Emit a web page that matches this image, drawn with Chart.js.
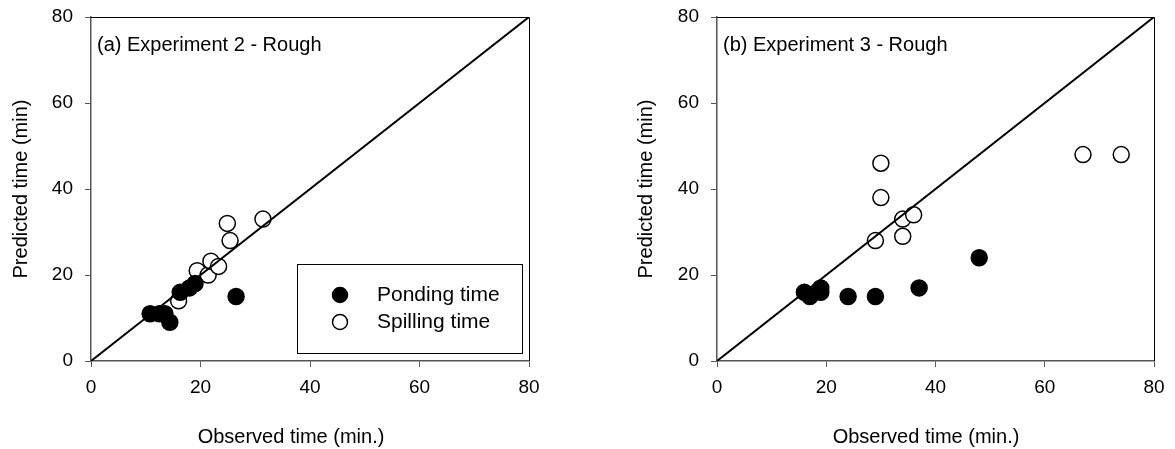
<!DOCTYPE html>
<html>
<head>
<meta charset="utf-8">
<script src="https://cdn.jsdelivr.net/npm/chart.js@4.4.1/dist/chart.umd.min.js"></script>
<style>
  body { margin: 0; background: #fff; }
  .wrap { position: absolute; top: 0; height: 449px; }
</style>
</head>
<body>
<div class="wrap" style="left:0;width:587px"><canvas id="exp2"></canvas></div>
<div class="wrap" style="left:587px;width:588px"><canvas id="exp3"></canvas></div>
<script>
// experiment 2 - rough
var e2PondX = [10.8, 12.5, 13.5, 14.4, 16.3, 18, 19, 26.5]
var e2PondY = [11, 11, 11, 9, 16, 17, 18, 15]
var e2SpillX = [16, 19.4, 21.4, 21.9, 23.3, 24.9, 25.4, 31.4]
var e2SpillY = [14, 21, 20, 23.2, 22, 32, 28, 33]

// experiment 3 - rough
var e3PondX = [16, 17, 19, 19, 24, 29, 37, 48]
var e3PondY = [16, 15, 17, 16, 15, 15, 17, 24]
var e3SpillX = [30, 30, 29, 34, 34, 36, 67, 74]
var e3SpillY = [46, 38, 28, 29, 33, 34, 48, 48]

var axisTicks = [0, 20, 40, 60, 80]
var lineXY = [0, 80]
var legendNames = ['Ponding time', 'Spilling time']
var xTitle = 'Observed time (min.)'
var yTitle = 'Predicted time (min)'

const FONT = 'Liberation Sans, Arial, sans-serif'

function pts(xs, ys){
  return xs.map((x, i) => ({x: x, y: ys[i]}))
}

// frame, axis titles, panel label, legend
const extras = {
  id: 'extras',
  afterDraw(chart, args, opts){
    const c = chart.ctx, a = chart.chartArea
    c.save()
    c.strokeStyle = '#000'
    c.lineWidth = 1
    c.beginPath()
    c.moveTo(a.left, a.top + 0.5); c.lineTo(a.right + 0.5, a.top + 0.5)
    c.lineTo(a.right + 0.5, a.bottom)
    c.stroke()
    c.fillStyle = '#000'
    c.font = '20px ' + FONT
    c.textBaseline = 'middle'
    c.textAlign = 'left'
    c.fillText(opts.label, a.left + 6, 45)

    c.textAlign = 'center'
    c.fillText(xTitle, opts.xTitleX, 437)
    c.save()
    c.translate(opts.yTitleX, 189)
    c.rotate(-Math.PI / 2)
    c.fillText(yTitle, 0, 0)
    c.restore()

    if(opts.legend){
      const lx = a.left + 206, ly = a.bottom - 97, w = 225, h = 89
      c.textAlign = 'left'
      c.font = '21px ' + FONT
      c.strokeRect(lx + 0.5, ly + 0.5, w, h)
      legendNames.forEach((n, i) => {
        const yy = ly + 31 + i * 27
        c.beginPath()
        c.arc(lx + 43, yy, 7.5, 0, Math.PI * 2)
        c.fillStyle = i === 0 ? '#000' : '#fff'
        c.fill()
        c.lineWidth = 1.5
        c.stroke()
        c.fillStyle = '#000'
        c.fillText(n, lx + 80, yy)
      })
    }
    c.restore()
  }
}

function makeChart(id, pondX, pondY, spillX, spillY, opts){
  const ctx = document.getElementById(id).getContext('2d')
  return new Chart(ctx, {
    type: 'scatter',
    data: {
      datasets: [
        {
          label: '1:1',
          data: pts(lineXY, lineXY),
          showLine: true,
          borderColor: '#000',
          borderWidth: 2,
          pointRadius: 0
        },
        {
          label: legendNames[0],
          data: pts(pondX, pondY),
          backgroundColor: '#000',
          borderColor: '#000',
          borderWidth: 1.5,
          pointRadius: 8
        },
        {
          label: legendNames[1],
          data: pts(spillX, spillY),
          backgroundColor: '#fff',
          borderColor: '#000',
          borderWidth: 1.5,
          pointRadius: 8
        }
      ]
    },
    options: {
      responsive: true,
      maintainAspectRatio: false,
      animation: false,
      layout: { padding: { top: 17, right: opts.padRight, left: 0, bottom: 0 } },
      plugins: {
        legend: { display: false },
        tooltip: { enabled: false },
        extras: opts
      },
      scales: {
        x: {
          type: 'linear', min: 0, max: 80,
          afterBuildTicks: s => { s.ticks = axisTicks.map(v => ({value: v})) },
          afterFit: s => { s.height = 88; s.paddingLeft = 0; s.paddingRight = 0 },
          grid: { display: true, drawOnChartArea: false, tickLength: 6, color: '#555' },
          border: { color: '#555', width: 1.5 },
          ticks: { color: '#000', font: { family: FONT, size: 19 }, padding: 9 }
        },
        y: {
          type: 'linear', min: 0, max: 80,
          afterBuildTicks: s => { s.ticks = axisTicks.map(v => ({value: v})) },
          afterFit: s => { s.width = opts.yWidth; s.paddingTop = 0; s.paddingBottom = 0 },
          grid: { display: true, drawOnChartArea: false, tickLength: 6, color: '#555' },
          border: { color: '#555', width: 1.5 },
          ticks: { color: '#000', font: { family: FONT, size: 19 }, padding: 12 }
        }
      }
    },
    plugins: [extras]
  })
}

makeChart('exp2', e2PondX, e2PondY, e2SpillX, e2SpillY,
  { label: '(a) Experiment 2 - Rough', yWidth: 91, padRight: 58, legend: true, xTitleX: 291, yTitleX: 21 })
makeChart('exp3', e3PondX, e3PondY, e3SpillX, e3SpillY,
  { label: '(b) Experiment 3 - Rough', yWidth: 130, padRight: 21, legend: false, xTitleX: 339, yTitleX: 59 })
</script>
</body>
</html>
